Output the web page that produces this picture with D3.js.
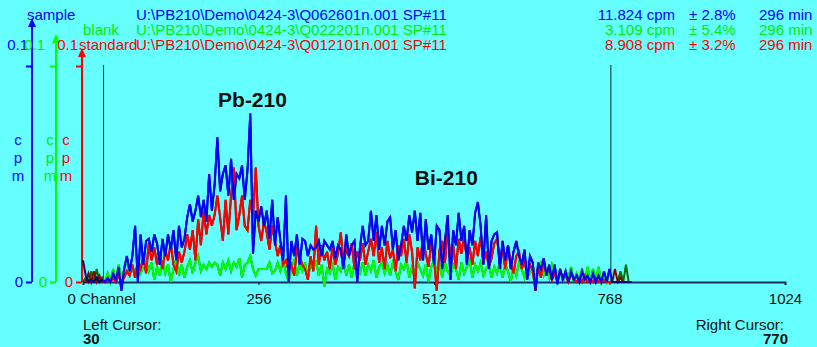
<!DOCTYPE html>
<html>
<head>
<meta charset="utf-8">
<script src="https://cdn.jsdelivr.net/npm/d3@7"></script>
<style>
  html, body { margin: 0; padding: 0; background: #66ffff; }
  svg { display: block; font-family: "Liberation Sans", Arial, sans-serif; }
</style>
</head>
<body>
<svg id="chart" width="817" height="347"></svg>
<script>
// spectra, one value per 4-channel bin starting at channel 0, in 0.001 cpm
const binWidth = 4;

const sample = [
  10,3,0,1,0,2,0,1,
  0,2,0,4,1,7,-4,6,
  12,5,12,26,0,22,8,19,
  20,14,22,18,8,20,12,22,15,24,10,26,16,
  20,30,36,28,33,40,30,38,28,50,33,
  45,67,42,50,54,40,57,38,50,48, 54,38,52,78,13,33,28,35,26,33, 20,38,17,30,19,10,40,0,19,12, 22,8,20,
  19,12,17,15,16,19,12,19,17,15,19,11,17,15,6,22,12,17,19,0,
  16,26,17,19,33,19,31,15,26,17, 28,30,15,24,10,17,26,19,31,23, 33,19,32,10,29,15,22,8,26,24,
  6,19,31,1,24,17,32,19,26,8, 24,17,32,37,26,8,31,6,19,22,
  23,6,19,10,17,6,14,19,12,8, 15,1,12,9,-4,9,6,11,3,8, 1,8,-1,6,1,5,0,5,1,3, 0,5,1,3,0,4,0,3,0,5, 0,6,
  0,0,0,0,0,0,0,0
];

const blank = [
  0,2,0,5,0,6,0,2,
  0,4,0,6,1,8,2,5,
  11,3,8,2,9,4,7,10,
  5,9,1,7,3,10,4,8,0,6, 11,3,8,2,7,10,4,9,12,5, 8,6,9,7,
  9,8,3,9,6,10,5,9,7,11, 2,8,9,12,6,3,6,6,6,6, 9,4,5,9,5,10,4,0,7,10, 3,8,5,
  9,2,8,6,10,3,8,-2,6,4, 9,1,7,5,10,3,8,2,9,6, 4,9,3,8,5,10,2,7,9,4,
  8,3,9,5,1,8,6,10,2,7, 4,9,6,3,8,0,7,10,4,8, 2,9,5,3,8,6,1,9,4,7, 10,2,8,5,9,3,6,8,2,7,
  4,9,2,8,5,0,7,3,9,6, 2,8,4,6,1,7,9,3,6,2, 8,4,1,6,0,5,2,7,0,4, 1,6,0,7,0,6,1,7,0,3, 0,5,
  0,0,0,5,0,8,0,0
];

const standard = [
  0,0,4,0,5,0,3,0,
  0,1,0,2,0,3,0,2,
  5,3,8,2,10,6,12,4,
  18,10,16,8,14,6,15,10,18,8,5,14,9,
  14,22,15,24,10,29,17,33,22,31,26,
  31,40,30,19,38,22,40,53,24,31, 40,26,24,38,30,53,26,19,28,23, 15,26,19,12,17,8,10,5,8,3, 15,12,8,
  6,1,12,5,26,8,17,10,14,6,16,8,13,23,9,15,12,18,6,14,
  10,18,8,14,20,12,23,9,16,6, 19,11,15,5,17,12,20,9,22,14, -3,16,10,21,13,7,18,11,-4,15,
  19,9,24,12,17,6,20,13,22,10, 16,8,19,12,21,9,14,7,11,18,
  20,10,15,6,17,9,4,12,14,6, 10,3,8,5,-4,7,2,10,4,6, 1,4,0,5,2,3,0,4,1,0, 2,0,3,0,1,0,2,0,0,1, 0,0,
  0,6,0,2,0,0,0,0
];

const labels = ["sample", "blank", "standard"];
const files = [
  "U:\\PB210\\Demo\\0424-3\\Q062601n.001 SP#11",
  "U:\\PB210\\Demo\\0424-3\\Q022201n.001 SP#11",
  "U:\\PB210\\Demo\\0424-3\\Q012101n.001 SP#11"
];
const rates = ["11.824 cpm", "3.109 cpm", "8.908 cpm"];
const errors = ["\u00b1 2.8%", "\u00b1 5.4%", "\u00b1 3.2%"];
const times = ["296 min", "296 min", "296 min"];

const xTicks = [0, 256, 512, 768, 1024];
const yTicks = [0, 0.1];
const cursors = [30, 770];
const peaks = [{name: "Pb-210", ch: 197, v: 0.081}, {name: "Bi-210", ch: 484, v: 0.045}];

const svg = d3.select("#chart");

const x = d3.scaleLinear().domain([0, 1024]).range([83, 785]);
const y = d3.scaleLinear().domain([0, 0.1]).range([282, 66]);

const bright = ["#0000ff", "#00ee00", "#ff0000"];
const dark = ["#000080", "#007000", "#8b0000"];
const lineBright = ["#0000ff", "#00ff00", "#ff0000"];

// header
const hdr = svg.append("g").attr("font-size", 15);
const labelX = [27, 83, 79];
labels.forEach((l, i) => {
  const by = 20 + i * 15;
  hdr.append("text").attr("x", labelX[i]).attr("y", by).attr("fill", bright[i]).text(l);
  hdr.append("text").attr("x", 136).attr("y", by).attr("fill", bright[i]).text(files[i]);
  hdr.append("text").attr("x", 675).attr("y", by).attr("text-anchor", "end").attr("fill", bright[i]).text(rates[i]);
  hdr.append("text").attr("x", 689).attr("y", by).attr("fill", bright[i]).text(errors[i]);
  hdr.append("text").attr("x", 759).attr("y", by).attr("fill", bright[i]).text(times[i]);
});

// y axes: sample, blank, standard
const yAxes = [
  {ax: 32, top: 18, color: "#0000ff", lx: -4, cx: 18},
  {ax: 56, top: 34, color: "#00ff00", lx: -11, cx: 50},
  {ax: 82, top: 48, color: "#ff0000", lx: -4, cx: 66}
];
yAxes.forEach((a, i) => {
  const g = svg.append("g").attr("transform", `translate(${a.ax},0)`)
    .call(d3.axisLeft(y).tickValues(yTicks).tickSize(6).tickPadding(3)
      .tickFormat(d => d === 0 ? "0" : "0.1"));
  g.select(".domain").remove();
  g.selectAll(".tick line").attr("stroke", a.color).attr("stroke-width", 2);
  g.selectAll(".tick text").attr("fill", bright[i]).attr("font-size", 15)
    .attr("font-family", "Liberation Sans, Arial, sans-serif")
    .filter(d => d !== 0).attr("y", -21).attr("x", a.lx);
  g.append("line").attr("x1", 0).attr("x2", 0).attr("y1", y(0)).attr("y2", a.top + 4)
    .attr("stroke", a.color).attr("stroke-width", 2);
  g.append("path").attr("d", `M0,${a.top}L-4,${a.top + 9}L4,${a.top + 9}Z`).attr("fill", a.color);
  ["c", "p", "m"].forEach((c, k) => {
    svg.append("text").attr("x", a.cx).attr("y", 145 + k * 18).attr("text-anchor", "middle")
      .attr("font-size", 15).attr("fill", bright[i]).text(c);
  });
});

// x axis
const xg = svg.append("g").attr("transform", `translate(0,${y(0)})`)
  .call(d3.axisBottom(x).tickValues(xTicks).tickSize(3).tickPadding(8)
    .tickFormat(d => d === 0 ? "0 Channel" : d));
xg.select(".domain").attr("stroke", "#1c2f6a").attr("stroke-width", 2);
xg.selectAll(".tick line").attr("stroke", "#111");
xg.selectAll(".tick text").attr("fill", "#111").attr("font-size", 15)
  .attr("font-family", "Liberation Sans, Arial, sans-serif");
xg.selectAll(".tick text").filter(d => d === 0).attr("text-anchor", "start").attr("x", -16);

// cursor lines
svg.selectAll(".cursor").data(cursors).join("line")
  .attr("x1", d => x(d)).attr("x2", d => x(d))
  .attr("y1", 65).attr("y2", y(0))
  .attr("stroke", "#0d2a2a").attr("stroke-width", 1);

svg.append("clipPath").attr("id", "win").append("rect")
  .attr("x", x(cursors[0])).attr("y", 0)
  .attr("width", x(cursors[1]) - x(cursors[0])).attr("height", 347);

const line = d3.line()
  .x((d, i) => x(i * binWidth))
  .y(d => y(d / 1000));

const order = [1, 2, 0]; // blank, standard, sample on top
const series = [sample, blank, standard];
order.forEach(k => {
  svg.append("path").datum(series[k]).attr("d", line)
    .attr("fill", "none").attr("stroke", dark[k]).attr("stroke-width", 2);
});
order.forEach(k => {
  svg.append("path").datum(series[k]).attr("d", line).attr("clip-path", "url(#win)")
    .attr("fill", "none").attr("stroke", lineBright[k]).attr("stroke-width", 2);
});

// peak names
svg.selectAll(".peak").data(peaks).join("text")
  .attr("x", d => x(d.ch)).attr("y", d => y(d.v))
  .attr("font-size", 21).attr("font-weight", "bold").attr("fill", "#111")
  .text(d => d.name);

// cursor readouts
svg.append("text").attr("x", 83).attr("y", 330).attr("font-size", 15).attr("fill", "#111").text("Left Cursor:");
svg.append("text").attr("x", 83).attr("y", 344).attr("font-size", 15).attr("font-weight", "bold").attr("fill", "#111").text(cursors[0]);
svg.append("text").attr("x", 784).attr("y", 330).attr("font-size", 15).attr("text-anchor", "end").attr("fill", "#111").text("Right Cursor:");
svg.append("text").attr("x", 788).attr("y", 344).attr("font-size", 15).attr("font-weight", "bold").attr("text-anchor", "end").attr("fill", "#111").text(cursors[1]);
</script>
</body>
</html>
